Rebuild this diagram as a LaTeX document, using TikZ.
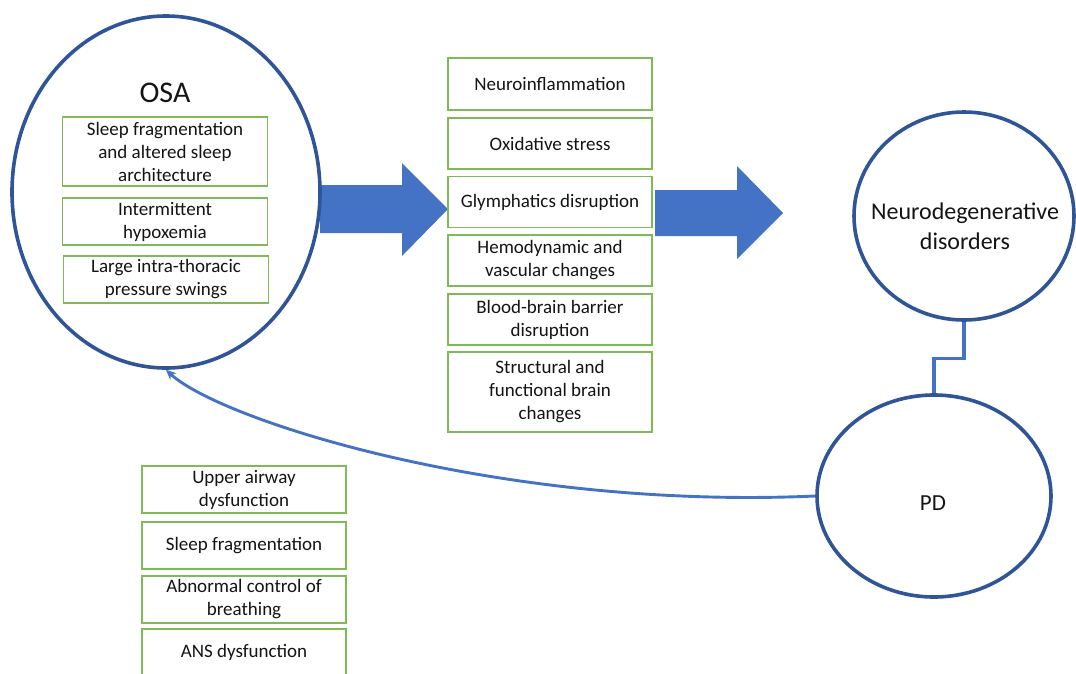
\documentclass[tikz,border=0pt]{standalone}
\usepackage{fontspec}
\setmainfont{Carlito}
\usetikzlibrary{shapes.geometric,arrows.meta}
\definecolor{circblue}{RGB}{47,85,151}
\definecolor{arrblue}{RGB}{68,114,196}
\definecolor{boxgreen}{RGB}{128,186,88}
\definecolor{txt}{RGB}{20,20,20}
\begin{document}
\begin{tikzpicture}[x=1pt,y=-1pt,
  circ/.style={ellipse, draw=circblue, line width=3.6pt, inner sep=0pt, text=txt},
  gbox/.style={draw=boxgreen, line width=1.3pt, fill=white, align=center, inner sep=2pt,
               text=txt, font=\fontsize{19}{23}\selectfont},
  blockarrow/.style={fill=arrblue, draw=none},
  conn/.style={draw=arrblue, line width=3.2pt}
]
\useasboundingbox (0,0) rectangle (1076,673);
\clip (0,0) rectangle (1076,673);

% block arrows
\fill[blockarrow] (320,185) -- (402,185) -- (402,163) -- (448,209) -- (402,256) -- (402,233) -- (320,233) -- cycle;
\fill[blockarrow] (655,190) -- (737,190) -- (737,166) -- (783,213) -- (737,259) -- (737,236) -- (655,236) -- cycle;

% OSA ellipse
\node[circ, minimum width=308pt, minimum height=352pt] (osa) at (166,192) {};
\node[text=txt, font=\fontsize{30}{34}\selectfont] (osat) at (165,93) {OSA};
\node[gbox, minimum width=205pt, minimum height=69pt] (o1) at (165,151.5) {Sleep fragmentation\\and altered sleep\\architecture};
\node[gbox, minimum width=205pt, minimum height=47pt] (o2) at (165,221.5) {Intermittent\\hypoxemia};
\node[gbox, minimum width=205pt, minimum height=47pt] (o3) at (166,279.5) {Large intra-thoracic\\pressure swings};

% middle column
\node[gbox, minimum width=204pt, minimum height=52pt] (m1) at (550,84) {Neuroinflammation};
\node[gbox, minimum width=204pt, minimum height=51pt] (m2) at (550,143.5) {Oxidative stress};
\node[gbox, minimum width=204pt, minimum height=51pt] (m3) at (550,202) {Glymphatics disruption};
\node[gbox, minimum width=204pt, minimum height=51pt] (m4) at (550,260.5) {Hemodynamic and\\vascular changes};
\node[gbox, minimum width=204pt, minimum height=51pt] (m5) at (550,319.5) {Blood-brain barrier\\disruption};
\node[gbox, minimum width=204pt, minimum height=80pt] (m6) at (550,392) {Structural and\\functional brain\\changes};

% right circles
\node[circ, minimum width=220pt, minimum height=208pt] (neuro) at (964,216) {};
\node[text=txt, align=center, font=\fontsize{24}{30}\selectfont] (neurot) at (965,226) {Neurodegenerative\\disorders};
\node[circ, minimum width=234pt, minimum height=202pt] (pd) at (934,496) {};
\node[text=txt, font=\fontsize{23}{28}\selectfont] (pdt) at (933,503) {PD};

% bottom-left boxes
\node[gbox, minimum width=204pt, minimum height=47pt] (b1) at (244,489.5) {Upper airway\\dysfunction};
\node[gbox, minimum width=204pt, minimum height=47pt] (b2) at (244,545.5) {Sleep fragmentation};
\node[gbox, minimum width=204pt, minimum height=47pt] (b3) at (244,599.5) {Abnormal control of\\breathing};
\node[gbox, minimum width=204pt, minimum height=47pt] (b4) at (244,652.5) {ANS dysfunction};

% connectors
\draw[conn] (neuro.south) -- ++(0,37) -| (pd.north);
\draw[conn, line width=2.9pt, -{Stealth[length=10pt,width=9pt]}] (pd.west) .. controls (500,510) and (220,420) .. (osa.south);
\end{tikzpicture}
\end{document}
